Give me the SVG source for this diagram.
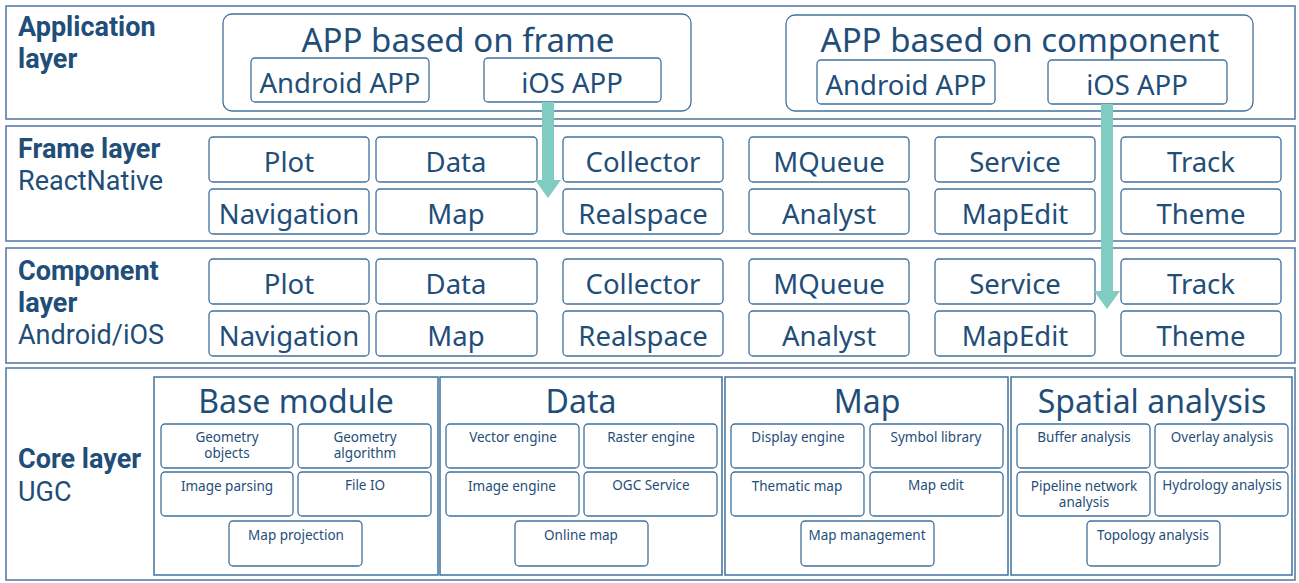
<svg xmlns="http://www.w3.org/2000/svg" width="1299" height="583" viewBox="0 0 1299 583">
<style>
.layer{fill:#fff;stroke:#5a7ea6;stroke-width:1.6}
.grp{fill:#fff;stroke:#41719c;stroke-width:1.3}
.box{fill:#fff;stroke:#41719c;stroke-width:1.3}
.mod{fill:#fff;stroke:#41719c;stroke-width:1.5}
.t{font-family:"Noto Sans","Open Sans",sans-serif;fill:#1f4e79}
.lbl{font-family:Roboto,"Noto Sans",sans-serif;fill:#1f4e79}
.lb{font-size:27px;font-weight:bold}
.lr{font-size:27px}
.big{font-size:33px;text-anchor:middle}
.mid{font-size:27.5px;text-anchor:middle}
.mt{font-size:32px;text-anchor:middle}
.sm{font-size:13.5px;text-anchor:middle}
.arr{fill:#80cbc2}
</style>
<rect width="1299" height="583" fill="#fff"/>

<g id="application-layer">
<rect class="layer" x="6" y="6" width="1289" height="113"/>
<text class="lbl lb" x="18" y="36">Application</text>
<text class="lbl lb" x="18" y="68">layer</text>
</g>
<g id="app-frame">
<rect class="grp" x="223" y="14" width="468" height="97" rx="9"/>
<text class="t big" x="458" y="52">APP based on frame</text>
</g>
<g id="app-frame-android"><rect class="box" x="251" y="58" width="178" height="44" rx="4"/><text class="t mid" x="340" y="93">Android APP</text></g>
<g id="app-frame-ios"><rect class="box" x="484" y="58" width="177" height="44" rx="4"/><text class="t mid" x="572" y="93">iOS APP</text></g>
<g id="app-component">
<rect class="grp" x="786" y="15" width="467" height="96" rx="9"/>
<text class="t big" x="1020" y="52">APP based on component</text>
</g>
<g id="app-comp-android"><rect class="box" x="817" y="60" width="178" height="44" rx="4"/><text class="t mid" x="906" y="95">Android APP</text></g>
<g id="app-comp-ios"><rect class="box" x="1048" y="60" width="179" height="44" rx="4"/><text class="t mid" x="1137" y="95">iOS APP</text></g>

<g id="frame-layer">
<rect class="layer" x="6" y="126" width="1289" height="115"/>
<text class="lbl lb" x="18" y="158">Frame layer</text>
<text class="lbl lr" x="18" y="190">ReactNative</text>
</g>
<g id="f-plot"><rect class="box" x="209" y="137" width="160" height="45" rx="4"/><text class="t mid" x="289" y="172">Plot</text></g>
<g id="f-data"><rect class="box" x="376" y="137" width="161" height="45" rx="4"/><text class="t mid" x="456" y="172">Data</text></g>
<g id="f-collector"><rect class="box" x="563" y="137" width="160" height="45" rx="4"/><text class="t mid" x="643" y="172">Collector</text></g>
<g id="f-mqueue"><rect class="box" x="749" y="137" width="160" height="45" rx="4"/><text class="t mid" x="829" y="172">MQueue</text></g>
<g id="f-service"><rect class="box" x="935" y="137" width="160" height="45" rx="4"/><text class="t mid" x="1015" y="172">Service</text></g>
<g id="f-track"><rect class="box" x="1121" y="137" width="160" height="45" rx="4"/><text class="t mid" x="1201" y="172">Track</text></g>
<g id="f-navigation"><rect class="box" x="209" y="189" width="160" height="45" rx="4"/><text class="t mid" x="289" y="224">Navigation</text></g>
<g id="f-map"><rect class="box" x="376" y="189" width="161" height="45" rx="4"/><text class="t mid" x="456" y="224">Map</text></g>
<g id="f-realspace"><rect class="box" x="563" y="189" width="160" height="45" rx="4"/><text class="t mid" x="643" y="224">Realspace</text></g>
<g id="f-analyst"><rect class="box" x="749" y="189" width="160" height="45" rx="4"/><text class="t mid" x="829" y="224">Analyst</text></g>
<g id="f-mapedit"><rect class="box" x="935" y="189" width="160" height="45" rx="4"/><text class="t mid" x="1015" y="224">MapEdit</text></g>
<g id="f-theme"><rect class="box" x="1121" y="189" width="160" height="45" rx="4"/><text class="t mid" x="1201" y="224">Theme</text></g>

<g id="component-layer">
<rect class="layer" x="6" y="248" width="1289" height="115"/>
<text class="lbl lb" x="18" y="280">Component</text>
<text class="lbl lb" x="18" y="312">layer</text>
<text class="lbl lr" x="18" y="344">Android/iOS</text>
</g>
<g id="c-plot"><rect class="box" x="209" y="259" width="160" height="45" rx="4"/><text class="t mid" x="289" y="294">Plot</text></g>
<g id="c-data"><rect class="box" x="376" y="259" width="161" height="45" rx="4"/><text class="t mid" x="456" y="294">Data</text></g>
<g id="c-collector"><rect class="box" x="563" y="259" width="160" height="45" rx="4"/><text class="t mid" x="643" y="294">Collector</text></g>
<g id="c-mqueue"><rect class="box" x="749" y="259" width="160" height="45" rx="4"/><text class="t mid" x="829" y="294">MQueue</text></g>
<g id="c-service"><rect class="box" x="935" y="259" width="160" height="45" rx="4"/><text class="t mid" x="1015" y="294">Service</text></g>
<g id="c-track"><rect class="box" x="1121" y="259" width="160" height="45" rx="4"/><text class="t mid" x="1201" y="294">Track</text></g>
<g id="c-navigation"><rect class="box" x="209" y="311" width="160" height="45" rx="4"/><text class="t mid" x="289" y="346">Navigation</text></g>
<g id="c-map"><rect class="box" x="376" y="311" width="161" height="45" rx="4"/><text class="t mid" x="456" y="346">Map</text></g>
<g id="c-realspace"><rect class="box" x="563" y="311" width="160" height="45" rx="4"/><text class="t mid" x="643" y="346">Realspace</text></g>
<g id="c-analyst"><rect class="box" x="749" y="311" width="160" height="45" rx="4"/><text class="t mid" x="829" y="346">Analyst</text></g>
<g id="c-mapedit"><rect class="box" x="935" y="311" width="160" height="45" rx="4"/><text class="t mid" x="1015" y="346">MapEdit</text></g>
<g id="c-theme"><rect class="box" x="1121" y="311" width="160" height="45" rx="4"/><text class="t mid" x="1201" y="346">Theme</text></g>

<g id="core-layer">
<rect class="layer" x="6" y="368" width="1289" height="212"/>
<text class="lbl lb" x="18" y="468">Core layer</text>
<text class="lbl lr" x="18" y="501">UGC</text>
</g>
<g id="base-module">
<rect class="mod" x="154" y="377" width="284" height="198"/>
<text class="t mt" x="296" y="413">Base module</text>
<rect class="box" x="161" y="424" width="132" height="44" rx="4"/><text class="t sm" x="227" y="442">Geometry</text><text class="t sm" x="227" y="458">objects</text>
<rect class="box" x="298" y="424" width="133" height="44" rx="4"/><text class="t sm" x="365" y="442">Geometry</text><text class="t sm" x="365" y="458">algorithm</text>
<rect class="box" x="161" y="472" width="132" height="44" rx="4"/><text class="t sm" x="227" y="491">Image parsing</text>
<rect class="box" x="298" y="472" width="133" height="44" rx="4"/><text class="t sm" x="365" y="490">File IO</text>
<rect class="box" x="229" y="521" width="133" height="45" rx="4"/><text class="t sm" x="296" y="540">Map projection</text>
</g>
<g id="data-module">
<rect class="mod" x="440" y="377" width="282" height="198"/>
<text class="t mt" x="581" y="413">Data</text>
<rect class="box" x="446" y="424" width="133" height="44" rx="4"/><text class="t sm" x="513" y="442">Vector engine</text>
<rect class="box" x="584" y="424" width="133" height="44" rx="4"/><text class="t sm" x="651" y="442">Raster engine</text>
<rect class="box" x="446" y="472" width="133" height="44" rx="4"/><text class="t sm" x="512" y="491">Image engine</text>
<rect class="box" x="584" y="472" width="133" height="44" rx="4"/><text class="t sm" x="651" y="490">OGC Service</text>
<rect class="box" x="515" y="521" width="133" height="45" rx="4"/><text class="t sm" x="581" y="540">Online map</text>
</g>
<g id="map-module">
<rect class="mod" x="725" y="377" width="283" height="198"/>
<text class="t mt" x="867" y="413">Map</text>
<rect class="box" x="731" y="424" width="133" height="44" rx="4"/><text class="t sm" x="798" y="442">Display engine</text>
<rect class="box" x="870" y="424" width="133" height="44" rx="4"/><text class="t sm" x="936" y="442">Symbol library</text>
<rect class="box" x="731" y="472" width="133" height="44" rx="4"/><text class="t sm" x="797" y="491">Thematic map</text>
<rect class="box" x="870" y="472" width="133" height="44" rx="4"/><text class="t sm" x="936" y="490">Map edit</text>
<rect class="box" x="801" y="521" width="133" height="45" rx="4"/><text class="t sm" x="867" y="540">Map management</text>
</g>
<g id="spatial-module">
<rect class="mod" x="1011" y="377" width="281" height="198"/>
<text class="t mt" x="1152" y="413">Spatial analysis</text>
<rect class="box" x="1017" y="424" width="133" height="44" rx="4"/><text class="t sm" x="1084" y="442">Buffer analysis</text>
<rect class="box" x="1155" y="424" width="133" height="44" rx="4"/><text class="t sm" x="1222" y="442">Overlay analysis</text>
<rect class="box" x="1017" y="472" width="133" height="44" rx="4"/><text class="t sm" x="1084" y="491">Pipeline network</text><text class="t sm" x="1084" y="507">analysis</text>
<rect class="box" x="1155" y="472" width="133" height="44" rx="4"/><text class="t sm" x="1222" y="490">Hydrology analysis</text>
<rect class="box" x="1087" y="521" width="133" height="45" rx="4"/><text class="t sm" x="1153" y="540">Topology analysis</text>
</g>

<g id="connectors">
<polygon class="arr" points="542,102 554,102 554,180 561,180 548,198 535,180 542,180"/>
<polygon class="arr" points="1101,104 1113,104 1113,291 1120,291 1107,309 1094,291 1101,291"/>
</g>
</svg>
